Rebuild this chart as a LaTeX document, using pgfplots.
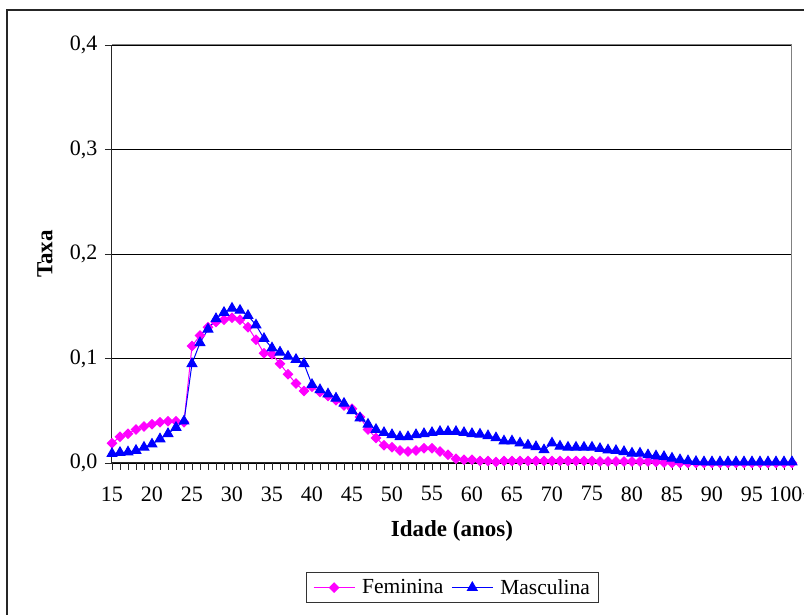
\documentclass[border=0pt]{standalone}
\usepackage{fontspec}
\setmainfont{Liberation Serif}
\usepackage{pgfplots}
\pgfplotsset{compat=1.18}
\usepackage{pgfplotstable}
\definecolor{pinkF}{RGB}{255,0,255}
\definecolor{blueM}{RGB}{0,0,255}
\newcommand\fs{\fontsize{21.5}{25}\selectfont}
\newcommand\fst{\fontsize{22}{26}\selectfont}
\newcommand\fsl{\fontsize{23}{27}\selectfont}

\pgfplotstableread{
idade fem masc
15 0.019 0.009
16 0.025 0.010
17 0.028 0.0105
18 0.032 0.012
19 0.035 0.015
20 0.037 0.018
21 0.039 0.023
22 0.040 0.028
23 0.040 0.034
24 0.039 0.040
25 0.112 0.095
26 0.122 0.115
27 0.130 0.128
28 0.135 0.138
29 0.137 0.144
30 0.139 0.148
31 0.137 0.146
32 0.130 0.141
33 0.118 0.132
34 0.105 0.119
35 0.104 0.110
36 0.095 0.106
37 0.085 0.102
38 0.076 0.099
39 0.069 0.095
40 0.073 0.075
41 0.068 0.070
42 0.064 0.066
43 0.060 0.062
44 0.055 0.057
45 0.052 0.050
46 0.044 0.043
47 0.032 0.037
48 0.024 0.032
49 0.017 0.029
50 0.015 0.027
51 0.012 0.025
52 0.011 0.025
53 0.012 0.027
54 0.014 0.028
55 0.014 0.029
56 0.011 0.030
57 0.008 0.030
58 0.004 0.030
59 0.003 0.029
60 0.003 0.028
61 0.002 0.0275
62 0.002 0.026
63 0.001 0.024
64 0.002 0.021
65 0.002 0.021
66 0.002 0.019
67 0.002 0.017
68 0.002 0.0155
69 0.002 0.0125
70 0.002 0.019
71 0.002 0.016
72 0.002 0.015
73 0.002 0.015
74 0.002 0.015
75 0.002 0.015
76 0.0015 0.0137
77 0.0015 0.0124
78 0.0015 0.0118
79 0.0015 0.0108
80 0.0015 0.0093
81 0.0015 0.0093
82 0.0015 0.0077
83 0.001 0.0067
84 0.0005 0.006
85 0.0 0.0045
86 0.0 0.003
87 0.0 0.002
88 0.0 0.0013
89 0.0 0.001
90 0.0 0.001
91 0.0 0.001
92 0.0 0.001
93 0.0 0.001
94 0.0 0.001
95 0.0 0.001
96 0.0 0.001
97 0.0 0.001
98 0.0 0.001
99 0.0 0.001
100 0.0 0.001
}\taxas

\begin{document}
\begin{tikzpicture}
\clip (0pt,0pt) rectangle (804pt,615pt);
\useasboundingbox (0pt,0pt) rectangle (804pt,615pt);
\fill[white] (0pt,0pt) rectangle (804pt,615pt);
\draw[line width=1.3pt, black!85] (7pt,-10pt) -- (7pt,605pt) -- (830pt,605pt);
\begin{axis}[
  at={(112pt,152pt)}, anchor=south west,
  scale only axis, width=680pt, height=418pt,
  xmin=15, xmax=100, ymin=0, ymax=0.4,
  axis x line*=bottom, axis y line*=left,
  axis line style={black!85, line width=1pt},
  xtick={15,20,...,100},
  xticklabels={15,20,25,30,35,40,45,50,55,60,65,70,75,80,85,90,95,100+},
  minor xtick={15,...,100},
  ytick={0,0.1,0.2,0.3,0.4},
  tick align=outside,
  major tick length=7pt, minor tick length=7pt,
  tick style={black!85, line width=0.8pt},
  ymajorgrids, grid style={black, line width=0.8pt},
  ticklabel style={font=\fst},
  xticklabel style={yshift=-13pt},
  yticklabel style={xshift=-4pt, /pgf/number format/.cd, fixed, fixed zerofill, precision=1, use comma, assume math mode=true},
  xlabel={\textbf{Idade (anos)}},
  ylabel={\textbf{Taxa}},
  label style={font=\fsl},
  xlabel style={at={(axis description cs:0.5,-0.1627)}, anchor=center},
  ylabel style={at={(axis description cs:-0.0985,0.5)}, anchor=center},
  clip=false,
  legend columns=2,
  legend style={at={(axis description cs:0.5007,-0.2608)}, anchor=north,
    font=\fs, draw=black!80, line width=0.8pt, inner xsep=7pt, inner ysep=5pt,
    /tikz/every odd column/.append style={column sep=5pt},
    /tikz/every even column/.append style={column sep=6pt}},
  legend image code/.code={\draw[mark repeat=2,mark phase=2] plot coordinates {(0pt,0pt) (20.5pt,0pt) (41pt,0pt)};},
]
\addplot[pinkF, line width=1pt, mark=square*, mark size=3.3pt, mark options={fill=pinkF, draw=pinkF, rotate=45}] table[x=idade, y=fem] {\taxas};
\addlegendentry{Feminina}
\addplot[blueM, line width=1pt, mark=triangle*, mark size=5.6pt, mark options={fill=blueM, draw=blueM}] table[x=idade, y=masc] {\taxas};
\addlegendentry{Masculina}
\draw[gray, line width=1pt] (rel axis cs:0,1) -- (rel axis cs:1,1) -- (rel axis cs:1,0);
\end{axis}
\end{tikzpicture}
\end{document}
